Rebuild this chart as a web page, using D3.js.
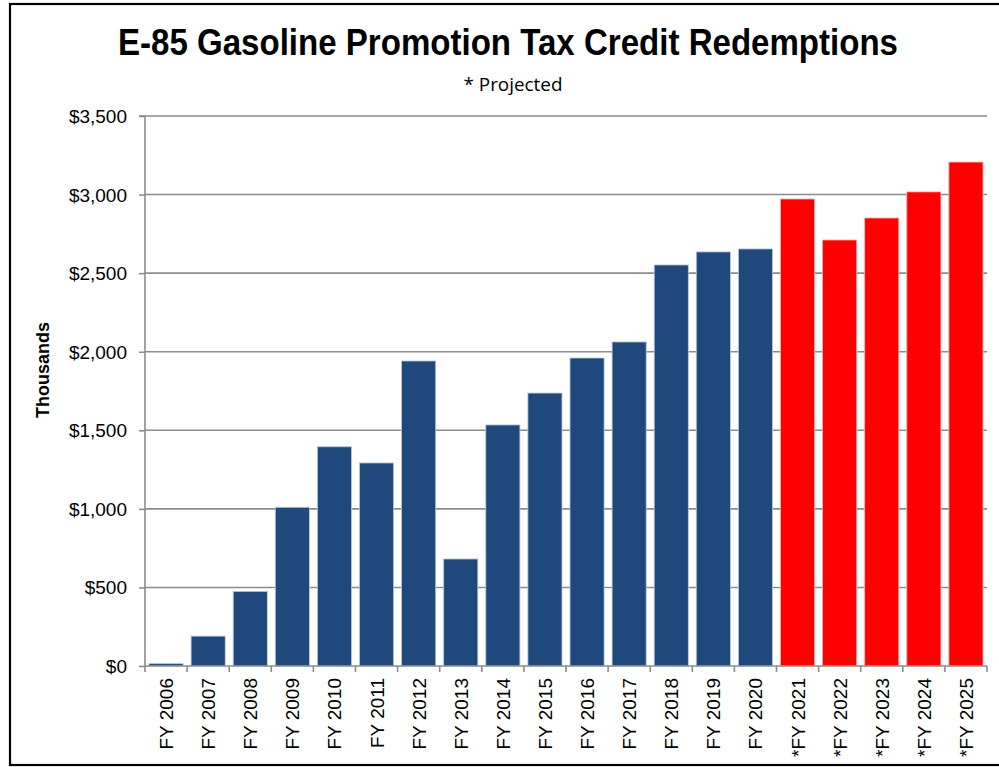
<!DOCTYPE html>
<html><head><meta charset="utf-8">
<script src="https://cdn.jsdelivr.net/npm/d3@7"></script>
<style>body{margin:0;background:#fff}svg{display:block}</style>
</head><body>
<svg id="c" width="999" height="767"></svg>
<script>
const categories = ["FY 2006","FY 2007","FY 2008","FY 2009","FY 2010","FY 2011","FY 2012","FY 2013","FY 2014","FY 2015","FY 2016","FY 2017","FY 2018","FY 2019","FY 2020","*FY 2021","*FY 2022","*FY 2023","*FY 2024","*FY 2025"];
const values = [15,190,475,1010,1395,1292,1941,681,1534,1737,1960,2062,2552,2635,2654,2972,2711,2851,3017,3207];
const projected = [false,false,false,false,false,false,false,false,false,false,false,false,false,false,false,true,true,true,true,true];
const yTicks = [0,500,1000,1500,2000,2500,3000,3500];
const title = "E-85 Gasoline Promotion Tax Credit Redemptions";
const subtitle = "* Projected";
const yTitle = "Thousands";

const svg = d3.select("#c");
const m = {left:145, right:987, top:116, bottom:666};
const font = "Liberation Sans, Arial, sans-serif";

// outer frame
svg.append("rect").attr("x",10).attr("y",4).attr("width",995).attr("height",761)
  .attr("fill","none").attr("stroke","#000").attr("stroke-width",2.2);

const x = d3.scaleBand().domain(categories).range([m.left,m.right]).paddingInner(0.19).paddingOuter(0.095);
const y = d3.scaleLinear().domain([0,3500]).range([m.bottom,m.top]);

// gridlines
svg.append("g").selectAll("line").data(yTicks.filter(d=>d>0)).join("line")
  .attr("x1",m.left).attr("x2",m.right).attr("y1",d=>y(d)).attr("y2",d=>y(d))
  .attr("stroke","#8c8c8c").attr("stroke-width",1.6);

// y axis
const yAxis = d3.axisLeft(y).tickValues(yTicks).tickSize(6).tickPadding(12)
  .tickFormat(d=>"$"+d3.format(",")(d));
const gy = svg.append("g").attr("transform",`translate(${m.left},0)`).call(yAxis);
gy.select(".domain").attr("stroke","#8c8c8c").attr("stroke-width",1.6).attr("d",`M-6,${m.top}H0V${m.bottom}`);
gy.selectAll(".tick line").attr("stroke","#8c8c8c").attr("stroke-width",1.6);
gy.selectAll(".tick text").attr("font-family",font).attr("font-size",19).attr("fill","#000").attr("dy","0.34em");

// bars
svg.append("g").selectAll("rect").data(categories).join("rect")
  .attr("x",d=>x(d)).attr("width",x.bandwidth())
  .attr("y",(d,i)=>y(values[i])).attr("height",(d,i)=>y(0)-y(values[i]))
  .attr("fill",(d,i)=>projected[i]?"#ff0000":"#1f497d")
  .attr("stroke",(d,i)=>projected[i]?"#ffb3b3":"#b9c6da").attr("stroke-width",0.8);

// x axis line and ticks at band boundaries
const bounds = d3.range(categories.length+1).map(i=>m.left + i*(m.right-m.left)/categories.length);
svg.append("line").attr("x1",m.left).attr("x2",m.right).attr("y1",m.bottom).attr("y2",m.bottom)
  .attr("stroke","#8c8c8c").attr("stroke-width",1.6);
svg.append("g").selectAll("line").data(bounds).join("line")
  .attr("x1",d=>d).attr("x2",d=>d).attr("y1",m.bottom).attr("y2",m.bottom+6)
  .attr("stroke","#8c8c8c").attr("stroke-width",1.6);

// x labels
svg.append("g").selectAll("text").data(categories).join("text")
  .attr("transform",d=>`translate(${x(d)+x.bandwidth()/2+7},${m.bottom+12}) rotate(-90)`)
  .attr("text-anchor","end").attr("font-family",font)
  .attr("font-size",19).attr("fill","#000").text(d=>d);

// y title
svg.append("text").attr("transform","translate(49,370) rotate(-90)").attr("text-anchor","middle")
  .attr("font-family",font).attr("font-weight","bold").attr("font-size",18).text(yTitle);

// title
svg.append("text").attr("x",508).attr("y",55).attr("text-anchor","middle")
  .attr("font-family","Liberation Sans Narrow, Liberation Sans, Arial, sans-serif").attr("font-weight","bold")
  .attr("font-size",37).attr("textLength",780).attr("lengthAdjust","spacingAndGlyphs").text(title);

svg.append("text").attr("x",513).attr("y",91).attr("text-anchor","middle")
  .attr("font-family","Open Sans, Noto Sans, sans-serif").attr("font-size",18)
  .attr("textLength",99).attr("lengthAdjust","spacingAndGlyphs").text(subtitle);
</script>
</body></html>
